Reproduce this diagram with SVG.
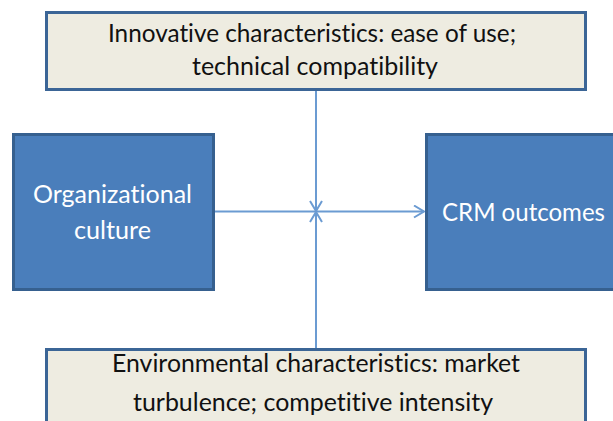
<svg xmlns="http://www.w3.org/2000/svg" width="613" height="421" viewBox="0 0 613 421">
<style>
.beige{fill:#eeece1;stroke:#3b6596;stroke-width:3}
.blue{fill:#4a7ebb;stroke:#36608f;stroke-width:3}
.dark{font-family:Lato,"Open Sans",sans-serif;font-size:25px;fill:#111;text-anchor:middle;font-variant-ligatures:none}
.light{font-family:Lato,"Open Sans",sans-serif;font-size:25px;fill:#fff;text-anchor:middle;font-variant-ligatures:none}
.conn{stroke:#6b9bd2;stroke-width:2;fill:none}
</style>
<defs>
<marker id="arr" markerUnits="userSpaceOnUse" markerWidth="14" markerHeight="16" refX="11" refY="7" orient="auto">
<path d="M1,1 L11,7 L1,13" fill="none" stroke="#6b9bd2" stroke-width="2"/>
</marker>
</defs>
<rect width="613" height="421" fill="#fff"/>
<g id="connectors">
<line class="conn" x1="215" y1="211.5" x2="424" y2="211.5" marker-end="url(#arr)"/>
<line class="conn" x1="316" y1="90" x2="316" y2="211" marker-end="url(#arr)"/>
<line class="conn" x1="316" y1="349" x2="316" y2="212" marker-end="url(#arr)"/>
</g>
<g id="innovative">
<rect class="beige" x="46.5" y="12.5" width="539" height="77"/>
<text class="dark" x="312" y="42" textLength="408" lengthAdjust="spacingAndGlyphs">Innovative characteristics: ease of use;</text>
<text class="dark" x="315" y="75" textLength="246" lengthAdjust="spacingAndGlyphs">technical compatibility</text>
</g>
<g id="environmental">
<rect class="beige" x="46.5" y="349.5" width="539" height="100"/>
<text class="dark" x="316" y="372" textLength="408" lengthAdjust="spacingAndGlyphs">Environmental characteristics: market</text>
<text class="dark" x="313" y="411" textLength="360" lengthAdjust="spacingAndGlyphs">turbulence; competitive intensity</text>
</g>
<g id="culture">
<rect class="blue" x="13.5" y="134.5" width="200" height="155"/>
<text class="light" x="112.5" y="203" textLength="159" lengthAdjust="spacingAndGlyphs">Organizational</text>
<text class="light" x="112.5" y="239" textLength="77" lengthAdjust="spacingAndGlyphs">culture</text>
</g>
<g id="crm">
<rect class="blue" x="426.5" y="134.5" width="220" height="155"/>
<text class="light" x="523.5" y="221" textLength="163" lengthAdjust="spacingAndGlyphs">CRM outcomes</text>
</g>
</svg>
